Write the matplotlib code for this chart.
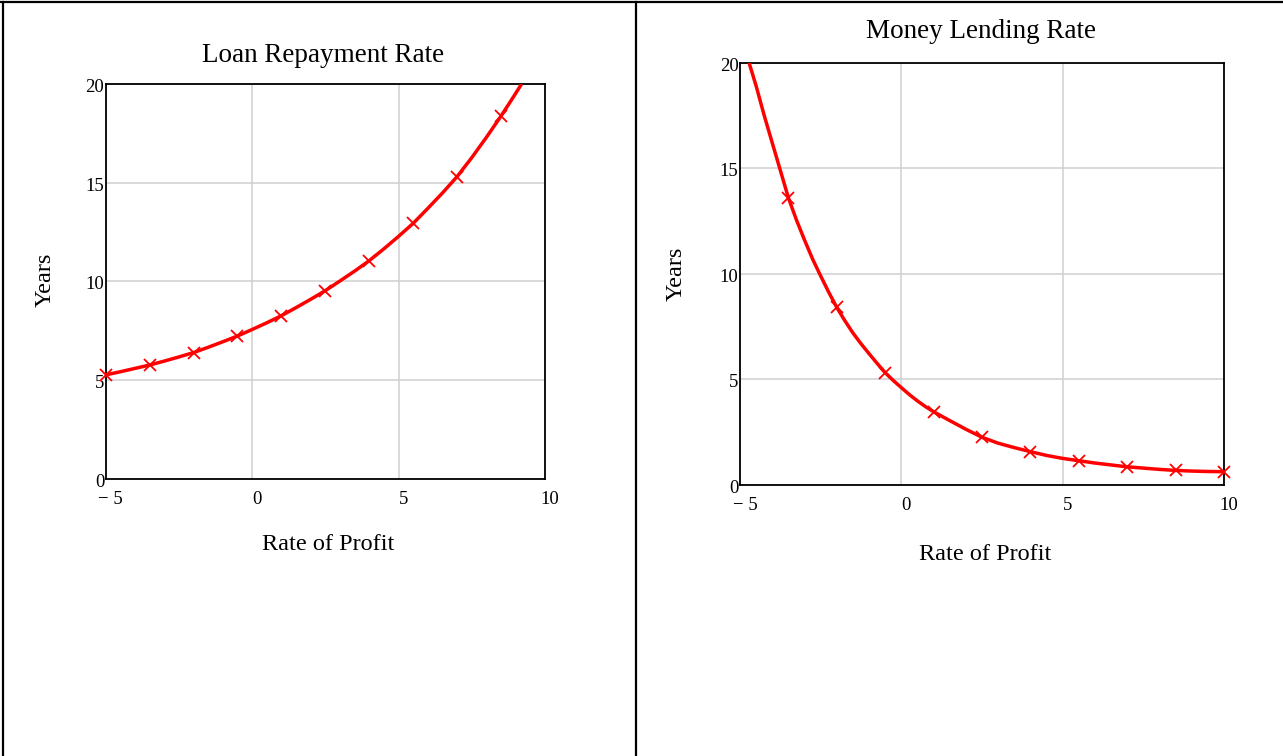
import matplotlib
matplotlib.use("Agg")
import matplotlib.pyplot as plt
from matplotlib.lines import Line2D
from matplotlib.transforms import ScaledTranslation

# ---- data ----
left_line_x = [-5.0, -4.5, -4.0, -3.5, -3.0, -2.5, -2.0, -1.5, -1.0, -0.5, 0.0, 0.5, 1.0, 1.5, 2.0, 2.5,
               3.0, 3.5, 4.0, 4.5, 5.0, 5.5, 6.0, 6.5, 7.0, 7.5, 8.0, 8.5, 8.85, 9.2]
left_line_y = [5.26, 5.42, 5.59, 5.76, 5.96, 6.17, 6.39, 6.66, 6.94, 7.23, 7.56, 7.90, 8.26, 8.67, 9.09, 9.53,
               10.02, 10.52, 11.05, 11.65, 12.28, 12.94, 13.70, 14.48, 15.31, 16.27, 17.30, 18.38, 19.18, 20.0]
left_mark_x = [-5.0, -3.5, -2.0, -0.5, 1.0, 2.5, 4.0, 5.5, 7.0, 8.5]
left_mark_y = [5.26, 5.76, 6.39, 7.23, 8.26, 9.53, 11.05, 12.94, 15.31, 18.38]

right_line_x = [-4.72, -4.5, -4.25, -4.0, -3.75, -3.5, -3.25, -3.0, -2.75, -2.5, -2.25, -2.0, -1.75, -1.5,
                -1.25, -1.0, -0.75, -0.5, -0.25, 0.0, 0.25, 0.5, 0.75, 1.0, 1.5, 2.0, 2.5, 3.0, 3.5, 4.0,
                4.5, 5.0, 5.5, 6.0, 6.5, 7.0, 7.5, 8.0, 8.5, 9.0, 9.5, 10.0]
right_line_y = [20.0, 18.9, 17.5, 16.2, 14.9, 13.60, 12.55, 11.6, 10.7, 9.9, 9.13, 8.41, 7.78, 7.2,
                6.69, 6.22, 5.76, 5.32, 4.95, 4.61, 4.28, 3.98, 3.71, 3.47, 3.05, 2.64, 2.26, 1.98, 1.77, 1.58,
                1.40, 1.26, 1.15, 1.04, 0.95, 0.86, 0.80, 0.74, 0.69, 0.66, 0.64, 0.63]
right_mark_x = [-3.5, -2.0, -0.5, 1.0, 2.5, 4.0, 5.5, 7.0, 8.5, 10.0]
right_mark_y = [13.60, 8.41, 5.32, 3.47, 2.26, 1.58, 1.15, 0.86, 0.69, 0.63]

x_ticks = [-5, 0, 5, 10]
x_tick_labels = ["\u2212 5", "0", "5", "10"]
y_ticks = [0, 5, 10, 15, 20]
y_tick_labels = ["0", "5", "10", "15", "20"]

titles = ["Loan Repayment Rate", "Money Lending Rate"]
xlabel = "Rate of Profit"
ylabel = "Years"

plt.rcParams['font.family'] = ['Liberation Serif', 'DejaVu Serif']

W, H = 1283, 756
fig = plt.figure(figsize=(W / 100, H / 100), dpi=100)

def px_axes(x0, y0, x1, y1):
    return fig.add_axes([x0 / W, 1 - y1 / H, (x1 - x0) / W, (y1 - y0) / H])

ax1 = px_axes(105.7, 84.0, 545.0, 478.7)
ax2 = px_axes(740.0, 62.7, 1224.0, 485.0)

RED = '#ff0000'
for ax, lx, ly, mx, my in [(ax1, left_line_x, left_line_y, left_mark_x, left_mark_y),
                           (ax2, right_line_x, right_line_y, right_mark_x, right_mark_y)]:
    ax.set_xlim(-5, 10)
    ax.set_ylim(0, 20)
    ax.plot(lx, ly, color=RED, lw=2.5, solid_capstyle='butt', solid_joinstyle='round', zorder=3)
    ax.plot(mx, my, ls='none', marker='x', ms=9, mew=1.3, color=RED, zorder=4, clip_on=False)
    ax.set_xticks(x_ticks)
    ax.set_xticklabels(x_tick_labels)
    ax.set_yticks(y_ticks)
    ax.set_yticklabels(y_tick_labels)
    ax.grid(True, color='#d0d0d0', lw=1.1)
    ax.set_axisbelow(True)
    ax.tick_params(length=0, labelsize=13.5, colors='black')
    ax.tick_params(axis='x', pad=8.5)
    ax.tick_params(axis='y', pad=1)
    for s in ax.spines.values():
        s.set_linewidth(1.3)
        s.set_color('black')
    off = ScaledTranslation(5 / 100, 0, fig.dpi_scale_trans)
    for lab in ax.get_xticklabels():
        lab.set_transform(lab.get_transform() + off)
    offy = ScaledTranslation(0, -1.5 / 100, fig.dpi_scale_trans)
    for lab in ax.get_yticklabels():
        lab.set_transform(lab.get_transform() + offy)

# titles and labels placed in figure pixel coordinates
def ftext(x, y, s, size, rot=0):
    fig.text(x / W, 1 - y / H, s, fontsize=size, ha='center', va='center', rotation=rot)

ftext(323, 56, titles[0], 19.5)
ftext(981, 32, titles[1], 19.5)
ftext(328, 544, xlabel, 17.5)
ftext(985, 555, xlabel, 17.5)
ftext(45, 280, ylabel, 17.5, rot=90)
ftext(676, 274, ylabel, 17.5, rot=90)

# table-like borders
lw = 1.6
fig.add_artist(Line2D([0, 1], [1 - 2 / H, 1 - 2 / H], transform=fig.transFigure, color='black', lw=lw))
fig.add_artist(Line2D([3 / W, 3 / W], [0, 1 - 2 / H], transform=fig.transFigure, color='black', lw=lw))
fig.add_artist(Line2D([636 / W, 636 / W], [0, 1 - 2 / H], transform=fig.transFigure, color='black', lw=lw))

fig.savefig('out.png', dpi=100)
